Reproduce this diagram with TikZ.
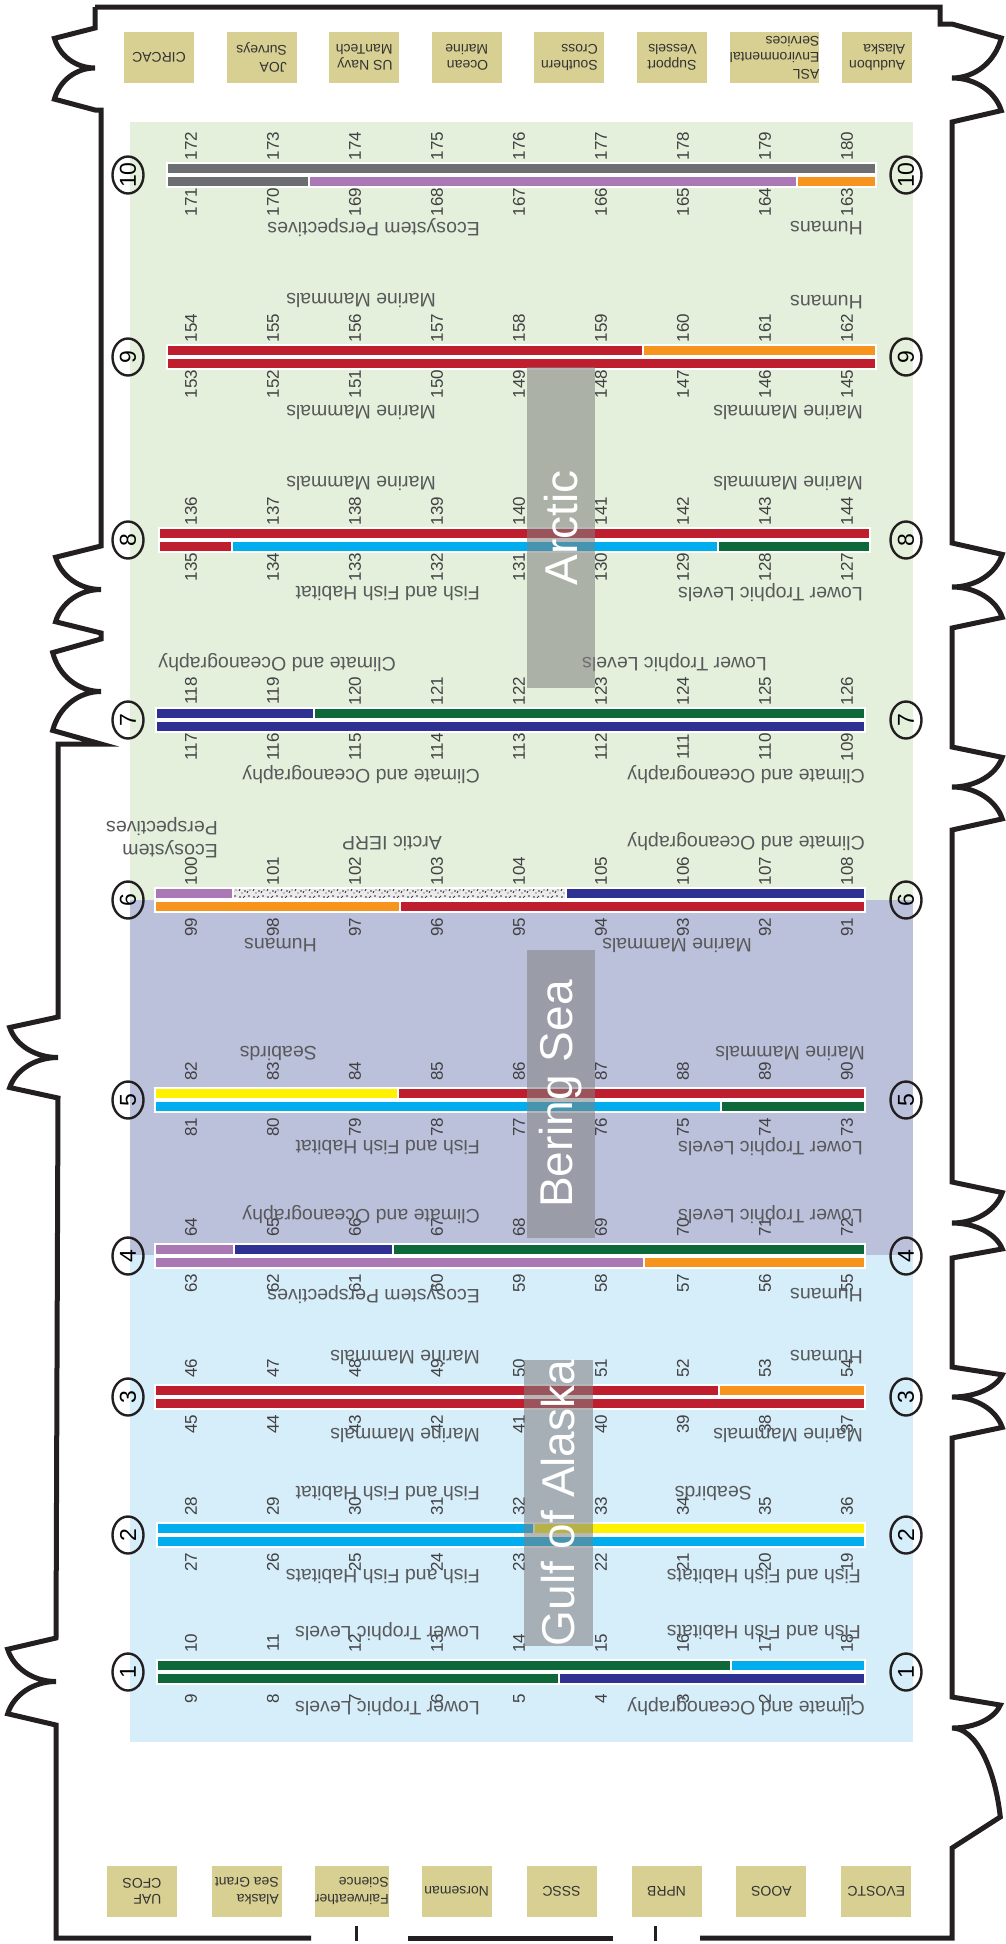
\documentclass[tikz,border=0pt]{standalone}
\usepackage{fontspec}
\setmainfont{Liberation Sans}
\usetikzlibrary{shapes.geometric, patterns}

\definecolor{cNavy}{RGB}{46,49,146}
\definecolor{cGreen}{RGB}{14,105,58}
\definecolor{cLBlue}{RGB}{0,174,239}
\definecolor{cRed}{RGB}{190,30,45}
\definecolor{cOrange}{RGB}{247,148,29}
\definecolor{cYellow}{RGB}{255,242,0}
\definecolor{cPurple}{RGB}{170,120,180}
\definecolor{cGrey}{RGB}{109,110,113}
\definecolor{bgArctic}{RGB}{229,240,220}
\definecolor{bgBering}{RGB}{188,193,219}
\definecolor{bgGulf}{RGB}{214,237,250}
\definecolor{logofill}{RGB}{216,208,146}
\definecolor{labgray}{RGB}{88,89,91}
\definecolor{numgray}{RGB}{65,64,66}
\definecolor{hullblack}{RGB}{35,31,32}

\newcommand{\catfont}{\fontsize{19.5}{23}\selectfont}
\newcommand{\numfont}{\fontsize{17}{17}\selectfont}
\newcommand{\circfont}{\fontsize{23}{23}\selectfont}
\newcommand{\logofont}{\fontsize{14}{16.5}\selectfont}
\newcommand{\regfont}{\fontsize{46}{46}\selectfont}

% speckled fill for the shared Arctic IERP bunks
\pgfdeclarepatternformonly{speckle}{\pgfqpoint{-1pt}{-1pt}}{\pgfqpoint{15pt}{12pt}}{\pgfqpoint{14pt}{11pt}}{
  \pgfpathcircle{\pgfqpoint{2pt}{2pt}}{0.9pt}
  \pgfpathcircle{\pgfqpoint{7pt}{8pt}}{0.8pt}
  \pgfpathcircle{\pgfqpoint{11pt}{3pt}}{0.9pt}
  \pgfpathcircle{\pgfqpoint{4pt}{6pt}}{0.6pt}
  \pgfpathcircle{\pgfqpoint{12pt}{9pt}}{0.6pt}
  \pgfusepath{fill}
  \pgfsetlinewidth{0.7pt}
  \pgfpathmoveto{\pgfqpoint{5pt}{1pt}}\pgfpathlineto{\pgfqpoint{7pt}{3pt}}
  \pgfpathmoveto{\pgfqpoint{9pt}{6pt}}\pgfpathlineto{\pgfqpoint{10pt}{8pt}}
  \pgfpathmoveto{\pgfqpoint{1pt}{8pt}}\pgfpathlineto{\pgfqpoint{2pt}{10pt}}
  \pgfusepath{stroke}
}

% double doors in the hull wall: #1 = swing, #2/#3 = upper/lower leaf
\newcommand{\doorL}[3]{-- ++({-#1*cos(15)},{#2*sin(15)}) arc[start angle=165, end angle=90, x radius=#1, y radius=#2] arc[start angle=270, end angle=195, x radius=#1, y radius=#3] -- ++({#1*cos(15)},{#3*sin(15)})}
\newcommand{\doorR}[3]{-- ++({#1*cos(15)},{#2*sin(15)}) arc[start angle=15, end angle=90, x radius=#1, y radius=#2] arc[start angle=-90, end angle=-15, x radius=#1, y radius=#3] -- ++({-#1*cos(15)},{#3*sin(15)})}

% bunk bars: #1 = row centre, #2/#3 = from/to, #4 = colour
\newcommand{\tseg}[4]{\draw[seg, fill=#4] (#2,#1-12) rectangle (#3,#1-1);}
\newcommand{\bseg}[4]{\draw[seg, fill=#4] (#2,#1+1) rectangle (#3,#1+12);}

\tikzset{
  cat/.style={rotate=180, anchor=west, inner sep=0pt, text=labgray, font=\catfont},
  num/.style={rotate=90, inner sep=0pt, text=numgray, font=\numfont},
  berth/.style={draw=hullblack, ellipse, rotate=90, line width=2.4pt, minimum width=37pt, minimum height=31pt, inner sep=0pt, font=\circfont},
  seg/.style={draw=white, line width=1.5pt},
  region/.style={rotate=90, fill=black!50, fill opacity=0.56, text opacity=1, text=white, inner sep=0pt, font=\regfont},
  logo/.style={rotate=180, fill=logofill, align=left, inner sep=0pt, minimum width=70pt, minimum height=51pt, text=black!80, font=\logofont},
  hull/.style={line width=5pt, draw=hullblack, line join=miter}
}

\begin{document}
\begin{tikzpicture}[x=1pt, y=-1pt]
\useasboundingbox (0,0) rectangle (1005,1944);

% sea areas
\fill[bgArctic] (130,122) rectangle (913,900);
\fill[bgBering] (130,900) rectangle (913,1255);
\fill[bgGulf] (130,1255) rectangle (913,1742);

% row 10
\tseg{175}{167}{876}{cGrey}
\bseg{175}{167}{309}{cGrey}
\bseg{175}{309}{797}{cPurple}
\bseg{175}{797}{876}{cOrange}
% row 9
\tseg{357}{167}{643}{cRed}
\tseg{357}{643}{876}{cOrange}
\bseg{357}{167}{876}{cRed}
% row 8
\tseg{540}{159}{870}{cRed}
\bseg{540}{159}{232}{cRed}
\bseg{540}{232}{718}{cLBlue}
\bseg{540}{718}{870}{cGreen}
% row 7
\tseg{720}{156}{314}{cNavy}
\tseg{720}{314}{865}{cGreen}
\bseg{720}{156}{865}{cNavy}
% row 6
\tseg{900}{155}{233}{cPurple}
\fill[white!92!black] (233,888) rectangle (566,899);
\fill[pattern=speckle, pattern color=black!85] (233,888) rectangle (566,899);
\draw[seg] (233,888) rectangle (566,899);
\tseg{900}{566}{865}{cNavy}
\bseg{900}{155}{400}{cOrange}
\bseg{900}{400}{865}{cRed}
% row 5
\tseg{1100}{155}{398}{cYellow}
\tseg{1100}{398}{865}{cRed}
\bseg{1100}{155}{721}{cLBlue}
\bseg{1100}{721}{865}{cGreen}
% row 4
\tseg{1256}{155}{234}{cPurple}
\tseg{1256}{234}{393}{cNavy}
\tseg{1256}{393}{865}{cGreen}
\bseg{1256}{155}{644}{cPurple}
\bseg{1256}{644}{865}{cOrange}
% row 3
\tseg{1397}{155}{719}{cRed}
\tseg{1397}{719}{865}{cOrange}
\bseg{1397}{155}{865}{cRed}
% row 2
\tseg{1535}{157}{534}{cLBlue}
\tseg{1535}{534}{865}{cYellow}
\bseg{1535}{157}{865}{cLBlue}
% row 1
\tseg{1672}{157}{731}{cGreen}
\tseg{1672}{731}{865}{cLBlue}
\bseg{1672}{157}{559}{cGreen}
\bseg{1672}{559}{865}{cNavy}

% berth numbers and row circles
\foreach \r/\c in {1/1672,2/1535,3/1397,4/1256,5/1100,6/900,7/720,8/540,9/357,10/175}{
  \foreach \i in {0,...,8}{
    \pgfmathtruncatemacro{\up}{18*(\r-1)+10+\i}
    \pgfmathtruncatemacro{\dn}{18*(\r-1)+9-\i}
    \node[num] (t\up) at ({191+82*\i},\c-29) {\up};
    \node[num] (b\dn) at ({191+82*\i},\c+27) {\dn};
  }
  \node[berth] (l\r) at (128,\c) {\r};
  \node[berth] (r\r) at (906,\c) {\r};
}

% group labels
\node[cat] (c10b1) at (480,228) {Ecosystem Perspectives};
\node[cat] (c10b2) at (863,228) {Humans};
\node[cat] (c9t1) at (436,300) {Marine Mammals};
\node[cat] (c9t2) at (863,302) {Humans};
\node[cat] (c9b1) at (436,412) {Marine Mammals};
\node[cat] (c9b2) at (863,412) {Marine Mammals};
\node[cat] (c8t1) at (436,483) {Marine Mammals};
\node[cat] (c8t2) at (863,483) {Marine Mammals};
\node[cat] (c8b1) at (480,593) {Fish and Fish Habitat};
\node[cat] (c8b2) at (863,593) {Lower Trophic Levels};
\node[cat] (c7t1) at (396,663) {Climate and Oceanography};
\node[cat] (c7t2) at (767,663) {Lower Trophic Levels};
\node[cat] (c7b1) at (480,775) {Climate and Oceanography};
\node[cat] (c7b2) at (865,775) {Climate and Oceanography};
\node[cat, anchor=north west, align=left] (c6t1) at (218,858) {Ecosystem\\Perspectives};
\node[cat] (c6t2) at (442,843) {Arctic IERP};
\node[cat] (c6t3) at (865,842) {Climate and Oceanography};
\node[cat] (c6b1) at (317,945) {Humans};
\node[cat] (c6b2) at (752,945) {Marine Mammals};
\node[cat] (c5t1) at (317,1053) {Seabirds};
\node[cat] (c5t2) at (865,1053) {Marine Mammals};
\node[cat] (c5b1) at (480,1147) {Fish and Fish Habitat};
\node[cat] (c5b2) at (863,1147) {Lower Trophic Levels};
\node[cat] (c4t1) at (480,1215) {Climate and Oceanography};
\node[cat] (c4t2) at (863,1215) {Lower Trophic Levels};
\node[cat] (c4b1) at (480,1295) {Ecosystem Perspectives};
\node[cat] (c4b2) at (863,1295) {Humans};
\node[cat] (c3t1) at (480,1357) {Marine Mammals};
\node[cat] (c3t2) at (863,1357) {Humans};
\node[cat] (c3b1) at (480,1435) {Marine Mammals};
\node[cat] (c3b2) at (863,1435) {Marine Mammals};
\node[cat] (c2t1) at (480,1493) {Fish and Fish Habitat};
\node[cat] (c2t2) at (752,1493) {Seabirds};
\node[cat] (c2b1) at (480,1576) {Fish and Fish Habitats};
\node[cat] (c2b2) at (861,1576) {Fish and Fish Habitats};
\node[cat] (c1t1) at (480,1632) {Lower Trophic Levels};
\node[cat] (c1t2) at (861,1632) {Fish and Fish Habitats};
\node[cat] (c1b1) at (480,1707) {Lower Trophic Levels};
\node[cat] (c1b2) at (865,1707) {Climate and Oceanography};

% region tags
\node[region, minimum width=321pt, minimum height=68pt] (arctic) at (561,527.5) {Arctic};
\node[region, minimum width=288pt, minimum height=68pt] (bering) at (561,1094) {Bering Sea};
\node[region, minimum width=280pt, minimum height=69pt] (gulf) at (558.5,1503) {Gulf of Alaska};

% hull outline
\draw[hull] (95,7) -- (95,28) \doorL{42}{40}{42} -- (101,110) -- (101,546) \doorL{47}{43.5}{43.5} -- (101,639) \doorL{50}{52.5}{52.5} -- (58,744) -- (58,1017) \doorL{50}{40.5}{40.5} -- (56,1638) \doorL{50}{43.5}{43.5} -- (56,1938) -- (311,1938);
\draw[hull] (95,7) -- (940,7) -- (940,24) -- (952,24) \doorR{51}{54}{44} -- (952,543) \doorR{52}{44}{41} -- (952,747) \doorR{52}{40}{43} -- (952,1182) \doorR{52}{41}{35} -- (952,1367) \doorR{52}{30}{41} -- (952,1697) \doorR{50}{31}{120} -- (952,1938) -- (700,1938);
\draw[hull] (408,1938) -- (613,1938);
\draw[line width=3pt, hullblack] (356,1926) -- (356,1941);
\draw[line width=3pt, hullblack] (655,1926) -- (655,1941);

% sponsors
\node[logo] (circac) at (159,57.5) {CIRCAC};
\node[logo] (joa) at (261.6,57.5) {JOA\\Surveys};
\node[logo] (navy) at (364.2,57.5) {US Navy\\ManTech};
\node[logo] (ocean) at (466.8,57.5) {Ocean\\Marine};
\node[logo] (scross) at (569.4,57.5) {Southern\\Cross};
\node[logo] (support) at (672,57.5) {Support\\Vessels};
\node[logo] (asl) at (774.6,57.5) {ASL\\Environmental\\Services};
\node[logo] (audubon) at (877.2,57.5) {Audubon\\Alaska};
\node[logo] (uaf) at (142,1891) {UAF\\CFOS};
\node[logo] (seagrant) at (246.9,1891) {Alaska\\Sea Grant};
\node[logo] (fairw) at (351.8,1891) {Fairweather\\Science};
\node[logo] (norse) at (456.7,1891) {Norseman};
\node[logo] (sssc) at (561.6,1891) {SSSC};
\node[logo] (nprb) at (666.5,1891) {NPRB};
\node[logo] (aoos) at (771.4,1891) {AOOS};
\node[logo] (evostc) at (876.3,1891) {EVOSTC};
\end{tikzpicture}
\end{document}
